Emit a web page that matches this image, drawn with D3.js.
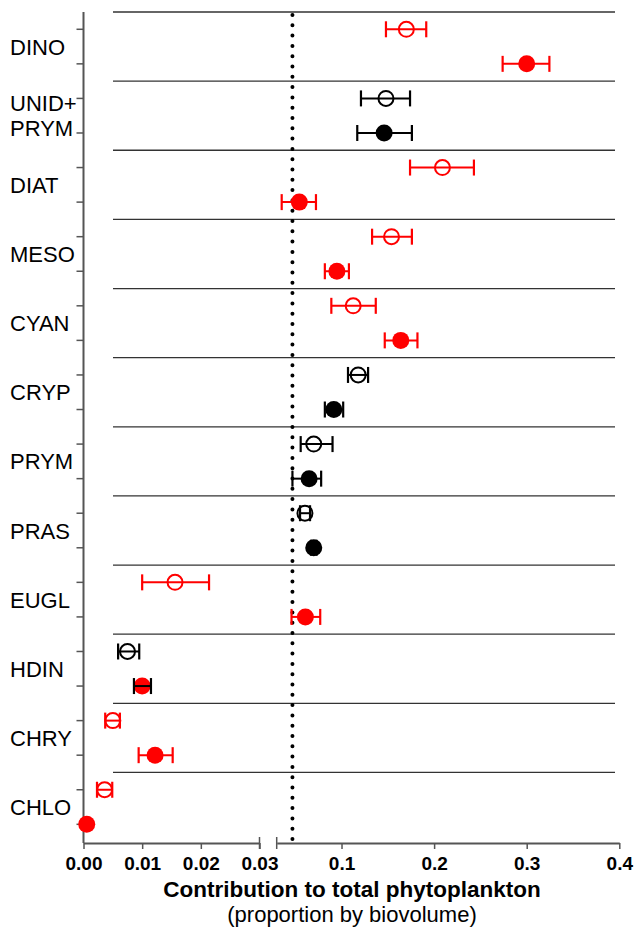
<!DOCTYPE html>
<html>
<head>
<meta charset="utf-8">
<script src="https://cdn.jsdelivr.net/npm/d3@7"></script>
<style>
  body { margin: 0; background: #fff; }
  text { font-family: "Liberation Sans", Arial, sans-serif; }
</style>
</head>
<body>
<div id="chart"></div>
<script>
// phytoplankton groups, top to bottom ("|" = line break)
const groups = ["DINO", "UNID+|PRYM", "DIAT", "MESO", "CYAN", "CRYP", "PRYM", "PRAS", "EUGL", "HDIN", "CHRY", "CHLO"];

// open circles (upper row of each group)
const openMean = [0.170, 0.148, 0.209, 0.154, 0.1126, 0.118, 0.070, 0.0605, 0.0156, 0.0075, 0.0050, 0.0036];
const openLo   = [0.148, 0.121, 0.174, 0.133, 0.089, 0.107, 0.0559, 0.0552, 0.0100, 0.0059, 0.0037, 0.0023];
const openHi   = [0.1915, 0.174, 0.243, 0.176, 0.137, 0.1287, 0.0903, 0.0660, 0.0214, 0.0095, 0.0062, 0.0049];
const openColor = ["red", "black", "red", "red", "red", "black", "black", "black", "red", "black", "red", "red"];

// filled circles (lower row of each group)
const fillMean = [0.300, 0.146, 0.0544, 0.095, 0.164, 0.0917, 0.065, 0.070, 0.061, 0.0100, 0.0122, 0.00055];
const fillLo   = [0.274, 0.117, 0.0354, 0.082, 0.1467, 0.082, 0.047, 0.067, 0.046, 0.0086, 0.0094, 0.00055];
const fillHi   = [0.3245, 0.176, 0.0724, 0.108, 0.182, 0.1018, 0.078, 0.073, 0.077, 0.0115, 0.0152, 0.00055];
const fillColor = ["red", "black", "red", "red", "red", "black", "black", "black", "red", "red", "red", "red"];
const fillBarColor = ["red", "black", "red", "red", "red", "black", "black", "black", "red", "black", "red", "red"];

const refLine = 0.047;
const leftTicks = [0, 0.01, 0.02, 0.03];
const rightTicks = [0.1, 0.2, 0.3, 0.4];

const width = 635, height = 929;
const axisColor = "#555";

const svg = d3.select("#chart").append("svg")
  .attr("width", width).attr("height", height);

// broken x axis: two linear pieces
const xLeft = d3.scaleLinear().domain([0, 0.03]).range([83.5, 259.5]);
const xRight = d3.scaleLinear().domain([0.03, 0.4]).range([276.7, 619.3]);
const x = (v) => (v <= 0.03 ? xLeft(v) : xRight(v));

// rows: 2 per group
const rows = [];
groups.forEach((g, i) => {
  rows.push({ key: i + "o", gi: i, mean: openMean[i], lo: openLo[i], hi: openHi[i], open: true, color: openColor[i], bar: openColor[i] });
  rows.push({ key: i + "f", gi: i, mean: fillMean[i], lo: fillLo[i], hi: fillHi[i], open: false, color: fillColor[i], bar: fillBarColor[i] });
});

const y = d3.scaleBand().domain(rows.map((d) => d.key)).range([12, 841.6]);
const yc = (k) => y(k) + y.bandwidth() / 2;
const axisY = 843;

// group separators
svg.selectAll(".sep")
  .data(groups.map((g, i) => i))
  .join("line")
  .attr("class", "sep")
  .attr("x1", 113).attr("x2", 615)
  .attr("y1", (i) => y(i + "o"))
  .attr("y2", (i) => y(i + "o"))
  .attr("stroke", "#333").attr("stroke-width", 1.3);

// reference dotted line
svg.append("line")
  .attr("x1", x(refLine)).attr("x2", x(refLine))
  .attr("y1", 15).attr("y2", 839)
  .attr("stroke", "#000").attr("stroke-width", 4)
  .attr("stroke-linecap", "round")
  .attr("stroke-dasharray", "0 10.3");

// y axis
const yAxis = svg.append("g")
  .attr("transform", "translate(83.5,0)")
  .call(d3.axisLeft(y).tickSize(7).tickSizeOuter(0).tickFormat(""));
yAxis.select(".domain").remove();
yAxis.selectAll("line").attr("stroke", axisColor).attr("stroke-width", 1.5);
svg.append("line")
  .attr("x1", 83.5).attr("x2", 83.5).attr("y1", 12).attr("y2", axisY)
  .attr("stroke", axisColor).attr("stroke-width", 2);

// x axes
const xa1 = svg.append("g")
  .attr("transform", `translate(0,${axisY})`)
  .call(d3.axisBottom(xLeft).tickValues(leftTicks).tickSize(6).tickSizeOuter(0).tickFormat(d3.format(".2f")));
const xa2 = svg.append("g")
  .attr("transform", `translate(0,${axisY})`)
  .call(d3.axisBottom(xRight).tickValues(rightTicks).tickSize(6).tickSizeOuter(0).tickFormat(d3.format(".1f")));
[xa1, xa2].forEach((a) => {
  a.select(".domain").attr("stroke", axisColor).attr("stroke-width", 2);
  a.selectAll("line").attr("stroke", axisColor).attr("stroke-width", 1.5);
  a.selectAll("text")
    .attr("fill", "#000")
    .attr("y", 14)
    .attr("dy", "0.71em")
    .style("font-size", "19px")
    .style("font-weight", "bold");
});

// break marks
svg.selectAll(".brk")
  .data([xLeft(0.03), xRight(0.03)])
  .join("line")
  .attr("class", "brk")
  .attr("x1", (d) => d).attr("x2", (d) => d)
  .attr("y1", axisY - 6).attr("y2", axisY + 6)
  .attr("stroke", axisColor).attr("stroke-width", 1.5);

// group labels
const labels = svg.selectAll(".glab")
  .data(groups)
  .join("text")
  .attr("class", "glab")
  .attr("x", 10)
  .style("font-size", "22px")
  .attr("fill", "#000");
labels.each(function (g, i) {
  const lines = g.split("|");
  const cy = (yc(i + "o") + yc(i + "f")) / 2;
  const t = d3.select(this);
  lines.forEach((ln, j) => {
    t.append("tspan")
      .attr("x", 10)
      .attr("y", cy + 8 + (j - (lines.length - 1) / 2) * 25)
      .text(ln);
  });
});

// markers
const pts = svg.selectAll(".pt")
  .data(rows)
  .join("g")
  .attr("class", "pt")
  .attr("transform", (d) => `translate(0,${yc(d.key)})`);

pts.append("circle")
  .attr("cx", (d) => x(d.mean))
  .attr("r", (d) => (d.open ? 7.5 : 8.5))
  .attr("fill", (d) => (d.open ? "none" : d.color))
  .attr("stroke", (d) => (d.open ? d.color : "none"))
  .attr("stroke-width", 2);

const bars = pts.filter((d) => d.hi > d.lo);
bars.append("line")
  .attr("x1", (d) => x(d.lo)).attr("x2", (d) => x(d.hi))
  .attr("stroke", (d) => d.bar).attr("stroke-width", 2);
bars.append("line")
  .attr("x1", (d) => x(d.lo)).attr("x2", (d) => x(d.lo))
  .attr("y1", -8).attr("y2", 8)
  .attr("stroke", (d) => d.bar).attr("stroke-width", 2.2);
bars.append("line")
  .attr("x1", (d) => x(d.hi)).attr("x2", (d) => x(d.hi))
  .attr("y1", -8).attr("y2", 8)
  .attr("stroke", (d) => d.bar).attr("stroke-width", 2.2);

// axis titles
svg.append("text")
  .attr("x", 352).attr("y", 897)
  .attr("text-anchor", "middle")
  .style("font-size", "22.5px").style("font-weight", "bold")
  .text("Contribution to total phytoplankton");
svg.append("text")
  .attr("x", 352).attr("y", 922)
  .attr("text-anchor", "middle")
  .style("font-size", "22px")
  .text("(proportion by biovolume)");
</script>
</body>
</html>
